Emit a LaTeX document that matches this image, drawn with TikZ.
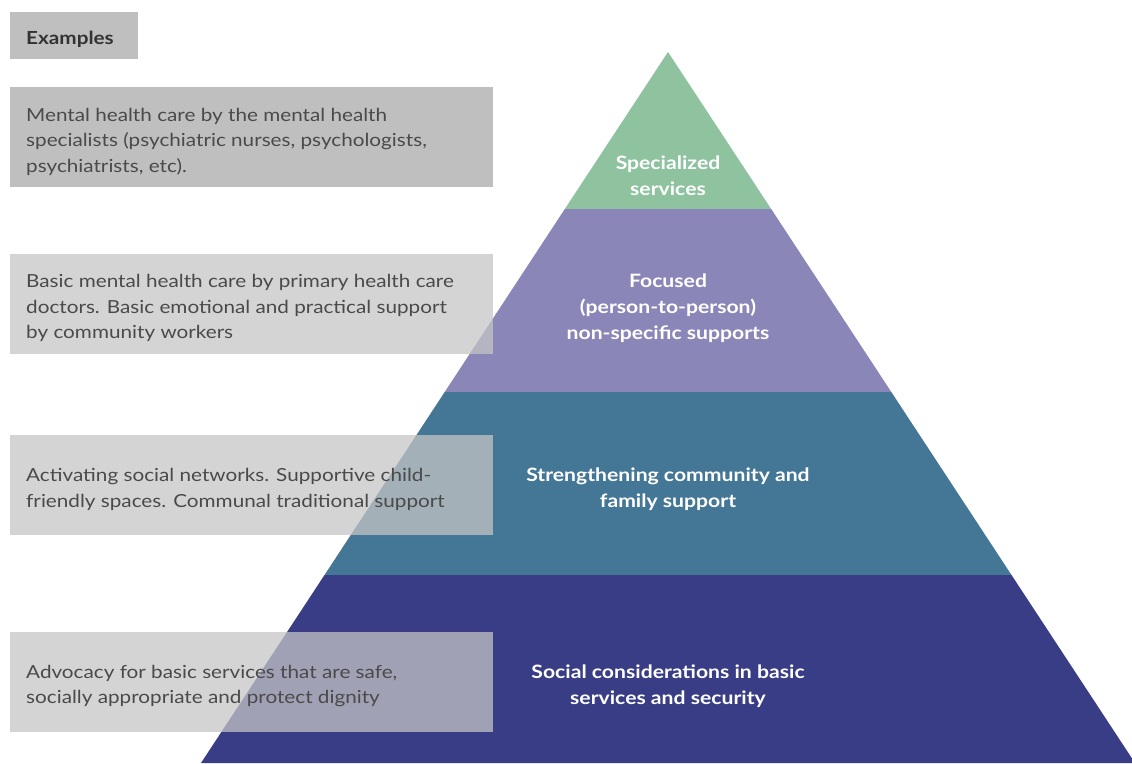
\documentclass[tikz,border=0pt]{standalone}
\usepackage{fontspec}
\setmainfont{Lato}[FakeStretch=1.15]
\definecolor{lgreen}{HTML}{8FC3A0}
\definecolor{lpurple}{HTML}{8A86B8}
\definecolor{lteal}{HTML}{447696}
\definecolor{lnavy}{HTML}{393D86}
\definecolor{boxdark}{HTML}{BFBFBF}
\definecolor{boxlight}{HTML}{C5C5C5}
\definecolor{txtgray}{HTML}{4A4A4A}
\tikzset{
  layerlabel/.style={text=white, font=\fontsize{18.4}{26}\selectfont\bfseries, align=center},
  exlabel/.style={text=txtgray, font=\fontsize{18}{25.5}\selectfont, align=left, anchor=west, inner sep=0pt},
  exbox/.style={fill=boxlight, fill opacity=0.74, draw=none},
}
\begin{document}
\begin{tikzpicture}[x=1pt,y=-1pt]
\useasboundingbox (0,0) rectangle (1132,763);
\clip (0,0) rectangle (1132,763);
% pyramid layers
\fill[lgreen]  (668,52) -- (771.2,209) -- (564.8,209) -- cycle;
\fill[lpurple] (564.8,209) -- (771.2,209) -- (891.3,392) -- (444.7,392) -- cycle;
\fill[lteal]   (444.7,392) -- (891.3,392) -- (1011.5,575) -- (324.5,575) -- cycle;
\fill[lnavy]   (324.5,575) -- (1011.5,575) -- (1135,763) -- (201,763) -- cycle;
% pyramid labels
\node[layerlabel] (l1) at (668,175.5) {Specialized\\services};
\node[layerlabel] (l2) at (668,308) {Focused\\(person-to-person)\\non-specific supports};
\node[layerlabel] (l3) at (668,489) {Strengthening community and\\family support};
\node[layerlabel] (l4) at (668,686) {Social considerations in basic\\services and security};
% header
\fill[boxdark] (10,12) rectangle (138,59);
\node[text=black!80, font=\fontsize{18}{22}\selectfont\bfseries, anchor=west, inner sep=0pt] (hdr) at (26,39) {Examples};
% example boxes
\fill[boxdark] (10,87) rectangle (493,187);
\node[exlabel] (e1) at (26,141.5) {Mental health care by the mental health\\specialists (psychiatric nurses, psychologists,\\psychiatrists, etc).};
\fill[exbox] (10,254) rectangle (493,354);
\node[exlabel] (e2) at (26,308) {Basic mental health care by primary health care\\doctors. Basic emotional and practical support\\by community workers};
\fill[exbox] (10,435) rectangle (493,535);
\node[exlabel] (e3) at (26,489.5) {Activating social networks. Supportive child-\\friendly spaces. Communal traditional support};
\fill[exbox] (10,632) rectangle (493,732);
\node[exlabel] (e4) at (26,686) {Advocacy for basic services that are safe,\\socially appropriate and protect dignity};
\end{tikzpicture}
\end{document}
